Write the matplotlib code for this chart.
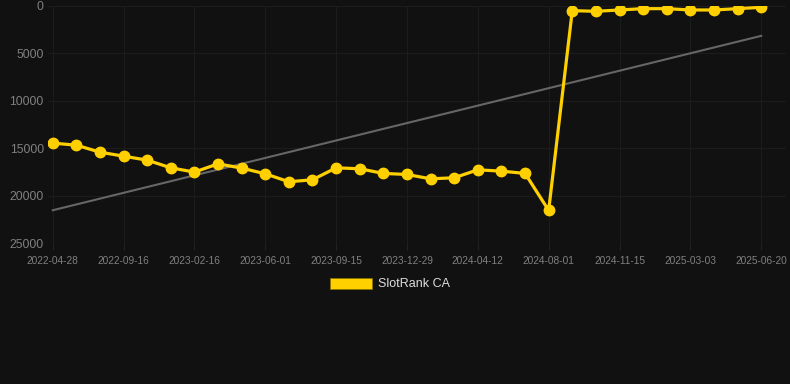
import matplotlib.pyplot as plt
import matplotlib.patches as mpatches
import numpy as np

tick_labels = ["2022-04-28", "2022-09-16", "2023-02-16", "2023-06-01", "2023-09-15", "2023-12-29",
               "2024-04-12", "2024-08-01", "2024-11-15", "2025-03-03", "2025-06-20"]
tick_idx = [0, 3, 6, 9, 12, 15, 18, 21, 24, 27, 30]

rank = [14465, 14680, 15420, 15840, 16260, 17070, 17520, 16650, 17100, 17700,
        18540, 18330, 17070, 17170, 17660, 17770, 18230, 18120, 17280, 17420,
        17660, 21560, 490, 560, 420, 280, 280, 420, 420, 280, 140]

BG = '#111111'
YEL = '#FFD000'

x = np.arange(len(rank))
coef = np.polyfit(x, rank, 1)
trend = np.polyval(coef, x)

plt.rcParams.update({'font.family': ['Liberation Sans', 'DejaVu Sans']})

fig = plt.figure(figsize=(7.9, 3.84), dpi=100, facecolor=BG)
ax = fig.add_axes([48/790, 1-243/384, (786-48)/790, (243-6)/384])
ax.set_facecolor(BG)

ax.plot([x[0], x[-1]], [trend[0], trend[-1]], color='#666666', linewidth=1.5, zorder=2)
ax.plot(x, rank, color=YEL, linewidth=2.3, marker='o', markersize=7.5, zorder=3)

ax.set_ylim(25000, 0)
ax.set_xlim(-0.2, 31.05)
ax.set_yticks([0, 5000, 10000, 15000, 20000, 25000])
ax.set_yticklabels(['0', '5000', '10000', '15000', '20000', '25000'])
ax.set_xticks(tick_idx)
ax.set_xticklabels(tick_labels)
ax.tick_params(axis='y', length=0, pad=3, labelsize=8.8, labelcolor='#808080')
ax.tick_params(axis='x', length=5, color='#222222', pad=4, labelsize=7.3, labelcolor='#808080')
ax.grid(True, color='#1c1c1c', linewidth=0.8)
for s in ax.spines.values():
    s.set_visible(False)
ax.axhline(25000, color='#262626', linewidth=0.8)

handle = mpatches.Patch(facecolor=YEL, edgecolor='#8a7000', linewidth=0.5)
leg = fig.legend([handle], ['SlotRank CA'], loc='center', bbox_to_anchor=(390/790, 1-284/384),
                 frameon=False, fontsize=9, handlelength=3.3, handleheight=1.0,
                 handletextpad=0.5, labelcolor='#dddddd')

fig.savefig('out.png', dpi=100, facecolor=BG)
